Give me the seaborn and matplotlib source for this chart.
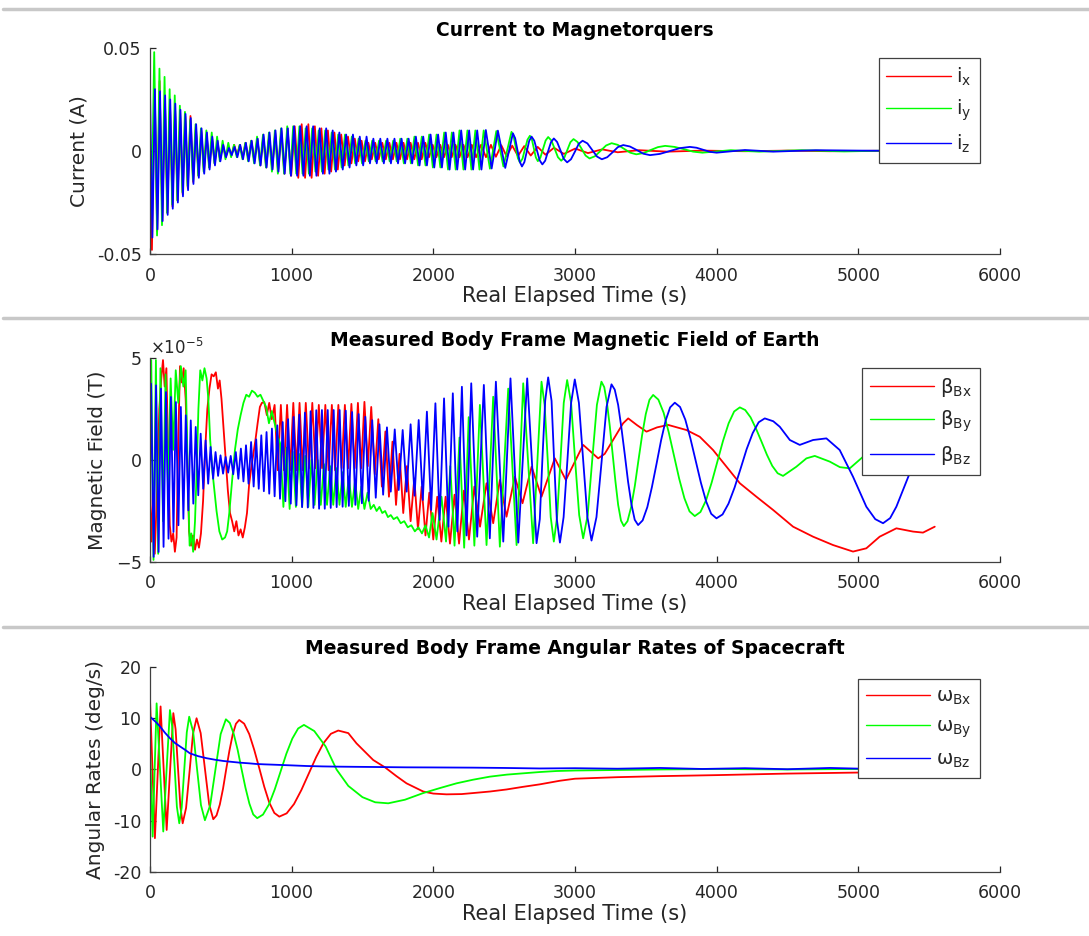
import matplotlib.pyplot as plt
import seaborn as sns
from matplotlib.lines import Line2D
from matplotlib.ticker import ScalarFormatter

sns.set_style("ticks")
plt.rcParams["font.family"] = ["DejaVu Sans"]
plt.rcParams["axes.unicode_minus"] = False
plt.rcParams["mathtext.default"] = "regular"

# ---- panel 1: current to magnetorquers (A), extrema ----
t_ix = [0, 14, 33, 51, 68, 87, 105, 123, 141, 159,
        177, 195, 213, 231, 249, 267, 286, 305, 324, 343,
        362, 381, 400, 419, 438, 457, 476, 495, 515, 535,
        555, 575, 595, 615, 635, 655, 675, 695, 716, 737,
        758, 779, 800, 821, 842, 863, 884, 905, 927, 949,
        971, 997, 1022, 1047, 1071, 1095, 1118, 1141, 1164, 1187,
        1210, 1233, 1256, 1279, 1302, 1326, 1350, 1374, 1398, 1422,
        1446, 1470, 1494, 1518, 1542, 1566, 1590, 1615, 1640, 1665,
        1690, 1715, 1740, 1765, 1790, 1815, 1840, 1866, 1892, 1918,
        1944, 1970, 1996, 2022, 2049, 2076, 2103, 2130, 2157, 2185,
        2213, 2242, 2272, 2302, 2337, 2372, 2407, 2442, 2480, 2518,
        2557, 2598, 2642, 2688, 2737, 2792, 2852, 2922, 3002, 3092,
        3192, 3302, 3452, 3652, 3902, 4200, 4500, 4800, 5100, 5550]
i_x = [0.0, -0.048, 0.030, -0.039, 0.034, -0.034, 0.026, -0.030, 0.024, -0.027,
       0.021, -0.024, 0.019, -0.021, 0.017, -0.018, 0.017, -0.015, 0.012, -0.012,
       0.010, -0.010, 0.008, -0.008, 0.006, -0.006, 0.004, -0.004, 0.003, -0.003,
       0.002, -0.002, 0.003, -0.002, 0.003, -0.003, 0.004, -0.004, 0.005, -0.005,
       0.006, -0.007, 0.007, -0.008, 0.008, -0.009, 0.009, -0.010, 0.010, -0.011,
       0.011, -0.012, 0.012, -0.013, 0.013, -0.013, 0.013, -0.013, 0.012, -0.012,
       0.011, -0.011, 0.010, -0.010, 0.009, -0.009, 0.008, -0.007, 0.007, -0.006,
       0.006, -0.005, 0.005, -0.005, 0.004, -0.004, 0.004, -0.004, 0.004, -0.004,
       0.004, -0.004, 0.004, -0.004, 0.004, -0.004, 0.004, -0.004, 0.004, -0.004,
       0.004, -0.003, 0.003, -0.003, 0.003, -0.003, 0.003, -0.003, 0.003, -0.003,
       0.003, -0.003, 0.003, -0.003, 0.003, -0.003, 0.003, -0.0028, 0.0028, -0.0026,
       0.0026, -0.0024, 0.0024, -0.0022, 0.0020, -0.0018, 0.0016, -0.0014, 0.0012, -0.0010,
       0.0008, -0.0006, 0.0004, -0.0003, 0.0002, -0.0001, 0.0002, -0.0001, 0.0001, 0.0]

t_iy = [0, 12, 30, 50, 67, 85, 103, 121, 139, 157,
        175, 193, 211, 229, 247, 265, 284, 303, 322, 341,
        360, 379, 398, 417, 436, 455, 474, 493, 513, 533,
        553, 573, 593, 613, 633, 653, 673, 693, 714, 735,
        756, 777, 798, 819, 840, 861, 882, 903, 925, 947,
        969, 991, 1011, 1033, 1055, 1077, 1099, 1122, 1145, 1168,
        1191, 1214, 1237, 1260, 1283, 1306, 1329, 1353, 1377, 1401,
        1425, 1449, 1473, 1497, 1521, 1545, 1569, 1593, 1617, 1642,
        1667, 1692, 1717, 1742, 1767, 1792, 1817, 1842, 1867, 1893,
        1919, 1945, 1971, 1997, 2023, 2050, 2077, 2104, 2131, 2158,
        2185, 2213, 2241, 2269, 2297, 2326, 2356, 2400, 2445, 2495,
        2552, 2567, 2582, 2597, 2612, 2630, 2647, 2665, 2682, 2696,
        2710, 2724, 2738, 2756, 2775, 2793, 2811, 2834, 2857, 2880,
        2903, 2925, 2947, 2968, 2990, 3018, 3047, 3075, 3103, 3142,
        3181, 3220, 3259, 3302, 3346, 3390, 3433, 3484, 3535, 3586,
        3637, 3703, 3769, 3834, 3900, 4100, 4300, 4600, 4900, 5200,
        5550]
i_y = [0.012, -0.030, 0.048, -0.041, 0.040, -0.036, 0.036, -0.030, 0.030, -0.026,
       0.027, -0.024, 0.022, -0.020, 0.019, -0.017, 0.015, -0.014, 0.013, -0.012,
       0.011, -0.010, 0.010, -0.008, 0.009, -0.006, 0.007, -0.005, 0.005, -0.004,
       0.004, -0.003, 0.003, -0.003, 0.003, -0.004, 0.004, -0.005, 0.005, -0.006,
       0.007, -0.007, 0.008, -0.008, 0.009, -0.010, 0.010, -0.011, 0.011, -0.011,
       0.012, -0.011, 0.012, -0.011, 0.012, -0.011, 0.011, -0.011, 0.011, -0.010,
       0.010, -0.010, 0.010, -0.009, 0.009, -0.009, 0.008, -0.008, 0.008, -0.007,
       0.007, -0.006, 0.006, -0.006, 0.005, -0.005, 0.005, -0.005, 0.005, -0.005,
       0.005, -0.005, 0.005, -0.005, 0.006, -0.006, 0.006, -0.006, 0.007, -0.007,
       0.007, -0.007, 0.008, -0.008, 0.008, -0.008, 0.009, -0.009, 0.009, -0.009,
       0.010, -0.009, 0.010, -0.009, 0.010, -0.009, 0.0100, -0.0086, 0.0097, -0.0075,
       0.0093, 0.0071, 0.0019, -0.0034, -0.0056, -0.0037, 0.0009, 0.0055, 0.0074, 0.0056,
       0.0013, -0.0031, -0.0049, -0.0032, 0.0010, 0.0051, 0.0068, 0.0051, 0.0011, -0.0030,
       -0.0047, -0.0032, 0.0006, 0.0043, 0.0058, 0.0044, 0.0011, -0.0022, -0.0036, -0.0025,
       0.0001, 0.0027, 0.0038, 0.0030, 0.0011, -0.0008, -0.0016, -0.0010, 0.0005, 0.0019,
       0.0025, 0.0020, 0.0009, -0.0003, -0.0008, 0.0004, -0.0003, 0.0004, -0.0002, 0.0002,
       0.0]

t_iz = [0, 17, 35, 53, 71, 89, 107, 125, 143, 161,
        179, 197, 215, 233, 251, 269, 288, 307, 326, 345,
        364, 383, 402, 421, 440, 459, 478, 497, 517, 537,
        557, 577, 597, 617, 637, 657, 677, 697, 718, 739,
        760, 781, 802, 823, 844, 865, 886, 907, 929, 951,
        973, 995, 1017, 1039, 1061, 1083, 1106, 1129, 1152, 1175,
        1198, 1221, 1244, 1267, 1290, 1313, 1337, 1361, 1385, 1409,
        1433, 1457, 1481, 1505, 1529, 1553, 1577, 1601, 1626, 1651,
        1676, 1701, 1726, 1751, 1776, 1801, 1826, 1851, 1877, 1903,
        1929, 1955, 1981, 2007, 2034, 2061, 2088, 2115, 2142, 2169,
        2197, 2225, 2253, 2281, 2310, 2340, 2371, 2412, 2456, 2508,
        2562, 2578, 2594, 2610, 2626, 2643, 2660, 2677, 2694, 2713,
        2732, 2751, 2770, 2790, 2810, 2831, 2851, 2874, 2898, 2921,
        2945, 2972, 3000, 3027, 3054, 3088, 3122, 3156, 3190, 3228,
        3266, 3303, 3341, 3388, 3436, 3483, 3530, 3600, 3670, 3741,
        3811, 3858, 3906, 3953, 4000, 4200, 4400, 4700, 5000, 5300,
        5550]
i_z = [0.031, -0.042, 0.030, -0.038, 0.029, -0.034, 0.027, -0.031, 0.025, -0.028,
       0.023, -0.025, 0.020, -0.022, 0.018, -0.019, 0.016, -0.016, 0.013, -0.013,
       0.011, -0.011, 0.009, -0.009, 0.007, -0.007, 0.005, -0.005, 0.003, -0.003,
       0.0015, -0.002, 0.002, -0.003, 0.003, -0.004, 0.004, -0.005, 0.005, -0.006,
       0.006, -0.007, 0.008, -0.008, 0.009, -0.009, 0.010, -0.010, 0.011, -0.011,
       0.011, -0.012, 0.012, -0.012, 0.012, -0.012, 0.012, -0.012, 0.012, -0.012,
       0.011, -0.011, 0.011, -0.011, 0.010, -0.010, 0.009, -0.009, 0.008, -0.008,
       0.008, -0.007, 0.007, -0.007, 0.007, -0.006, 0.006, -0.006, 0.006, -0.006,
       0.006, -0.006, 0.006, -0.006, 0.006, -0.006, 0.006, -0.006, 0.007, -0.007,
       0.007, -0.007, 0.008, -0.008, 0.008, -0.008, 0.009, -0.009, 0.009, -0.009,
       0.010, -0.009, 0.010, -0.009, 0.010, -0.009, 0.0102, -0.0085, 0.0099, -0.0082,
       0.0086, 0.0062, 0.0006, -0.0051, -0.0075, -0.0054, -0.0003, 0.0049, 0.0070, 0.0050,
       0.0003, -0.0045, -0.0065, -0.0047, -0.0002, 0.0043, 0.0061, 0.0044, 0.0003, -0.0038,
       -0.0055, -0.0040, -0.0003, 0.0035, 0.0050, 0.0037, 0.0005, -0.0027, -0.0040, -0.0030,
       -0.0006, 0.0019, 0.0029, 0.0022, 0.0005, -0.0013, -0.0020, -0.0014, 0.0, 0.0014,
       0.0020, 0.0016, 0.0006, -0.0004, -0.0008, 0.0005, -0.0003, 0.0004, 0.0002, 0.0001,
       0.0]

# ---- panel 2: measured body-frame magnetic field (units of 1e-5 T) ----
field_unit = 1e-5

t_bx = [0, 10, 22, 34, 50, 66, 80, 92, 104, 116,
        128, 140, 152, 164, 176, 188, 200, 212, 225, 238,
        252, 264, 276, 290, 304, 318, 332, 346, 360, 375,
        390, 405, 420, 435, 450, 465, 480, 492, 505, 520,
        535, 550, 565, 580, 595, 610, 625, 640, 655, 670,
        685, 700, 715, 730, 745, 760, 776, 790, 807, 825,
        842, 860, 880, 902, 924, 946, 968, 990, 1012, 1034,
        1056, 1078, 1100, 1123, 1146, 1169, 1192, 1215, 1238, 1261,
        1284, 1307, 1330, 1353, 1376, 1399, 1422, 1445, 1468, 1491,
        1514, 1538, 1562, 1587, 1612, 1637, 1662, 1687, 1712, 1737,
        1762, 1788, 1814, 1840, 1866, 1892, 1918, 1945, 1972, 2000,
        2028, 2057, 2087, 2118, 2150, 2182, 2216, 2252, 2290, 2330,
        2376, 2423, 2470, 2517, 2576, 2630, 2694, 2764, 2858, 2936,
        3058, 3164, 3210, 3340, 3376, 3440, 3505, 3580, 3658, 3787,
        3881, 3975, 4070, 4164, 4281, 4399, 4540, 4681, 4822, 4963,
        5057, 5151, 5269, 5387, 5457, 5540]
b_x = [-1.0, -4.0, -2.0, -4.6, -1.5, 2.5, 4.0, 4.9, 3.6, 4.5,
       0.5, -3.2, -4.0, -3.6, -4.5, -3.8, 1.0, 4.6, 3.8, 4.5,
       3.0, 0.0, -3.5, -4.2, -3.7, -4.4, -3.9, -4.3, -3.6, -2.0,
       0.5, 2.5, 3.5, 4.2, 4.1, 4.3, 3.5, 3.9, 3.0, 1.5,
       0.0, -1.5, -2.6, -3.0, -3.5, -3.0, -3.7, -3.4, -3.8, -3.3,
       -2.6, -1.2, -0.4, 0.3, 1.0, 1.8, 2.6, 2.8, 2.84, 2.2,
       2.8, 2.0, 2.7, -0.5, 2.7, -0.5, 2.7, -0.5, 2.8, -0.5,
       2.8, -0.5, 2.8, -0.4, 2.8, -0.4, 2.7, -0.4, 2.7, -0.5,
       2.7, -0.5, 2.7, -0.4, 2.7, -0.4, 2.75, -0.4, 2.8, -0.4,
       2.85, -0.3, 2.6, -0.7, 2.0, -1.3, 1.4, -1.8, 0.9, -2.2,
       0.3, -2.6, -0.3, -3.0, -0.9, -3.4, -1.3, -3.7, -1.6, -3.9,
       -1.8, -4.0, -1.8, -4.1, -1.7, -4.1, -1.5, -3.9, -1.3, -3.27,
       -1.14, -3.1, -0.98, -2.78, -0.82, -2.12, -0.33, -1.8, 0.08, -0.98,
       0.74, 0.08, 0.3, 1.8, 2.04, 1.7, 1.39, 1.6, 1.72, 1.47,
       1.14, 0.49, -0.33, -1.14, -1.8, -2.45, -3.27, -3.76, -4.17, -4.49,
       -4.33, -3.76, -3.35, -3.51, -3.56, -3.27]

t_by = [0, 9, 25, 42, 58, 74, 92, 110, 128, 146,
        164, 182, 200, 218, 236, 252, 268, 280, 292, 305,
        318, 330, 342, 355, 370, 385, 400, 412, 425, 440,
        455, 470, 490, 510, 530, 545, 560, 580, 600, 620,
        640, 660, 680, 700, 720, 740, 760, 780, 800, 820,
        840, 860, 880, 900, 920, 942, 964, 986, 1008, 1030,
        1052, 1074, 1096, 1118, 1140, 1162, 1184, 1206, 1228, 1250,
        1272, 1294, 1316, 1338, 1360, 1382, 1404, 1426, 1448, 1470,
        1492, 1514, 1536, 1558, 1580, 1600, 1620, 1640, 1660, 1680,
        1700, 1720, 1745, 1770, 1795, 1820, 1845, 1870, 1895, 1920,
        1945, 1970, 1995, 2023, 2058, 2090, 2120, 2150, 2185, 2218,
        2250, 2290, 2329, 2376, 2423, 2470, 2529, 2588, 2635, 2705,
        2764, 2786, 2808, 2829, 2851, 2874, 2898, 2921, 2945, 2973,
        3001, 3030, 3058, 3090, 3122, 3155,
        3187, 3207, 3226, 3246, 3266, 3286, 3305, 3325,
        3345, 3371, 3397, 3423, 3448, 3474, 3500, 3526,
        3552, 3589, 3626, 3662, 3699, 3736, 3773, 3809,
        3846, 3886, 3926, 3965, 4005, 4045, 4085, 4124,
        4164, 4202, 4240, 4278, 4317, 4355, 4393, 4431,
        4469, 4563, 4634, 4693, 4799, 4870, 4940, 5034, 5150, 5300, 5550]
b_y = [0.5, 4.9, -4.9, 4.9, -4.6, 4.5, -3.0, 4.2, -1.5, 4.0,
       0.5, 4.4, 2.8, 4.6, 3.6, 4.4, -1.0, -4.2, -3.6, -4.5,
       -3.0, -0.5, 2.5, 4.4, 3.9, 4.5, 4.0, 3.0, 1.0, -0.5,
       -1.5, -2.5, -3.5, -3.9, -3.8, -3.5, -2.6, -1.0, 0.5, 1.5,
       2.2, 2.8, 3.2, 3.1, 3.4, 3.3, 3.1, 3.2, 2.9, 2.6,
       1.8, 2.4, 1.8, 1.2, 0.8, -2.3, 0.6, -2.4, 0.4, -2.3,
       0.3, -2.3, 0.2, -2.3, 0.0, -2.2, 0.0, -2.2, -0.2, -2.2,
       -0.3, -2.2, -0.4, -2.2, -0.6, -2.3, -0.8, -2.3, -1.0, -2.4,
       -1.3, -2.4, -1.6, -2.4, -2.2, -2.5, -2.3, -2.6, -2.5, -2.8,
       -2.7, -2.9, -2.8, -3.1, -3.0, -3.3, -3.2, -3.5, -3.3, -3.6,
       -3.2, -3.8, -2.6, -3.9, -1.8, -4.0, -0.3, -4.2, 1.1, -4.3,
       2.1, -4.2, 2.7, -4.17, 3.1, -4.25, 3.5, -4.17, 3.76, -4.08,
       3.84, 2.7, 0.0, -2.8, -4.0, -2.8, 0.0, 2.8, 3.92, 2.8,
       0.0, -2.7, -3.84, -2.7, 0.0, 2.7,
       3.84, 3.57, 2.80, 1.66, 0.30, -1.06, -2.20, -2.97,
       -3.24, -3.0, -2.30, -1.26, -0.03, 1.21, 2.25, 2.95,
       3.19, 2.96, 2.32, 1.36, 0.22, -0.92, -1.88, -2.52,
       -2.75, -2.55, -1.97, -1.11, -0.09, 0.93, 1.80, 2.38,
       2.58, 2.45, 2.09, 1.54, 0.90, 0.26, -0.29, -0.65,
       -0.78, -0.33, 0.08, 0.2, -0.08, -0.35, -0.41, 0.16, 0.8, 1.2, 1.5]

t_bz = [0, 8, 26, 43, 61, 78, 96, 113, 131, 148,
        166, 183, 201, 218, 236, 253, 271, 288, 306, 323,
        341, 358, 376, 393, 411, 428, 446, 463, 481, 498,
        516, 534, 552, 570, 588, 606, 624, 642, 660, 678,
        696, 714, 732, 750, 768, 786, 804, 823, 842, 861,
        880, 899, 918, 937, 956, 975, 994, 1014, 1034, 1054,
        1074, 1094, 1114, 1134, 1154, 1174, 1194, 1214, 1234, 1255,
        1276, 1297, 1318, 1339, 1360, 1382, 1404, 1427, 1450, 1473,
        1496, 1520, 1544, 1569, 1594, 1620, 1646, 1673, 1700, 1728,
        1756, 1784, 1812, 1840, 1868, 1897, 1926, 1955, 1985, 2015,
        2045, 2076, 2107, 2138, 2170, 2202, 2235, 2268, 2310, 2357,
        2399, 2442, 2494, 2545, 2600, 2663, 2729, 2752, 2770, 2790,
        2811, 2835, 2853, 2872, 2894, 2920, 2947, 2973, 2999, 3028,
        3058, 3088, 3117, 3152, 3188, 3223,
        3258, 3281, 3305, 3328, 3352, 3375, 3399, 3422,
        3446, 3478, 3511, 3543, 3576, 3608, 3640, 3672,
        3705, 3742, 3779, 3815, 3852, 3889, 3926, 3962,
        3999, 4042, 4084, 4127, 4170, 4212, 4255, 4297,
        4340, 4400, 4446, 4517, 4587, 4681, 4775, 4869,
        4963, 5057, 5120, 5175, 5225, 5269, 5363, 5450, 5550]
b_z = [-1.0, 3.74, -4.75, 3.66, -4.51, 3.50, -4.26, 3.33, -3.86, 3.09,
       -3.53, 2.84, -3.20, 2.60, -2.88, 2.19, -2.47, 1.94, -2.14, 1.62,
       -1.73, 1.29, -1.41, 0.96, -1.16, 0.64, -0.92, 0.39, -0.78, 0.23,
       -0.67, 0.15, -0.62, 0.20, -0.70, 0.39, -0.92, 0.56, -1.05, 0.72,
       -1.16, 0.88, -1.30, 1.01, -1.41, 1.21, -1.53, 1.37, -1.65, 1.54,
       -1.78, 1.70, -1.90, 1.86, -2.02, 2.00, -2.14, 2.11, -2.22, 2.22,
       -2.31, 2.32, -2.33, 2.39, -2.35, 2.44, -2.39, 2.45, -2.39, 2.45,
       -2.35, 2.45, -2.31, 2.45, -2.29, 2.42, -2.25, 2.35, -2.20, 2.25,
       -2.12, 2.12, -2.00, 1.95, -1.85, 1.75, -1.70, 1.60, -1.55, 1.50,
       -1.47, 1.47, -1.55, 1.75, -1.75, 1.96, -1.96, 2.37, -2.45, 2.78,
       -2.94, 3.02, -3.27, 3.27, -3.50, 3.59, -3.70, 3.76, -3.76, 3.68,
       -3.84, 3.84, -4.00, 4.00, -4.05, 4.00, -4.08, -2.9, 0.0, 2.9,
       4.05, 2.9, 0.0, -2.9, -4.05, -2.8, 0.0, 2.8, 3.95, 2.8,
       0.0, -2.8, -3.95, -2.8, -0.1, 2.6,
       3.71, 3.45, 2.70, 1.58, 0.26, -1.06, -2.18, -2.93,
       -3.19, -2.96, -2.31, -1.34, -0.19, 0.96, 1.93, 2.58,
       2.81, 2.60, 1.98, 1.06, -0.03, -1.11, -2.03, -2.64,
       -2.86, -2.67, -2.14, -1.35, -0.41, 0.53, 1.32, 1.85,
       2.04, 1.9, 1.63, 0.98, 0.74, 0.98, 1.06, 0.49,
       -0.82, -2.29, -2.9, -3.10, -2.85, -2.29, -0.65, 0.8, 2.0]

# ---- panel 3: measured body-frame angular rates (deg/s) ----
t_wx = [0, 35, 75, 118, 165, 181, 198, 215, 231, 255, 280, 304, 329, 358, 388,
        418, 447, 470, 493, 516, 538, 561, 584, 607, 630, 665, 701, 736, 772, 807,
        842, 878, 913, 965, 1017, 1069, 1121, 1173, 1225, 1277, 1329, 1400, 1458,
        1576, 1660, 1740, 1811, 1929, 2000, 2093, 2200, 2281, 2400, 2517, 2630,
        2752, 2893, 3000, 3300, 3600, 4000, 4500, 5000, 5550]
w_x = [13.9, -13.4, 12.3, -11.8, 11.0, 7.85, 0.25, -7.35, -10.5, -7.5, -0.25, 7.0, 10.0, 7.1, 0.15,
       -6.8, -9.7, -8.96, -6.86, -3.72, 0.0, 3.68, 6.82, 8.92, 9.66, 8.94, 6.9, 3.84, 0.23, -3.38,
       -6.44, -8.48, -9.2, -8.56, -6.74, -4.0, -0.8, 2.4, 5.14, 6.96, 7.6, 7.1, 5.1,
       1.85, 0.4, -1.3, -2.7, -4.3, -4.7, -4.85, -4.8, -4.6, -4.3, -3.9, -3.4,
       -2.9, -2.2, -1.8, -1.5, -1.3, -1.1, -0.8, -0.6, -0.4]

t_wy = [0, 19, 47, 94, 117, 141, 157, 174, 190, 207, 224, 242, 260, 277, 305,
        332, 360, 388, 425, 462, 499, 536, 564, 591, 619, 646, 674, 702, 729, 757,
        798, 840, 881, 922, 963, 1005, 1046, 1087, 1160, 1240, 1317, 1400, 1500,
        1590, 1682, 1800, 1929, 2050, 2164, 2280, 2399, 2520, 2634, 2750, 2870,
        3000, 3300, 3600, 4000, 4500, 5000, 5550]
w_y = [5.0, -13.1, 12.9, -12.1, -0.25, 11.6, 8.36, 0.55, -7.26, -10.5, -7.45, -0.1, 7.25, 10.3, 7.34,
       0.2, -6.94, -9.9, -7.0, -0.05, 6.9, 9.8, 9.07, 6.97, 3.84, 0.15, -3.54, -6.67, -8.77, -9.5,
       -8.8, -6.83, -3.88, -0.4, 3.08, 6.03, 8.0, 8.7, 7.5, 4.5, 0.0, -3.2, -5.4,
       -6.4, -6.6, -5.9, -4.6, -3.6, -2.7, -2.0, -1.4, -1.0, -0.75, -0.5, -0.3,
       -0.2, -0.1, 0.0, 0.1, 0.0, 0.1, 0.0]

t_wz = [0, 40, 71, 105, 141, 175, 212, 250, 282, 340, 400, 460, 518, 580, 635,
        700, 753, 810, 870, 1000, 1105, 1220, 1341, 1450, 1576, 1700, 1811, 2000,
        2281, 2500, 2752, 3000, 3300, 3600, 3900, 4200, 4500, 4800, 5100, 5400, 5550]
w_z = [10.3, 9.3, 8.4, 7.2, 6.1, 5.2, 4.5, 3.8, 3.15, 2.6, 2.2, 1.9, 1.66, 1.48, 1.33,
       1.2, 1.07, 1.0, 0.94, 0.8, 0.68, 0.6, 0.55, 0.52, 0.49, 0.45, 0.42, 0.4,
       0.36, 0.3, 0.2, 0.25, 0.15, 0.3, 0.1, 0.25, 0.05, 0.3, 0.1, 0.2, 0.15]

RED, GREEN, BLUE = (1, 0, 0), (0, 1, 0), (0, 0, 1)
AXIS_COLOR = "#404040"

fig = plt.figure(figsize=(10.89, 9.36), dpi=100)
ax1 = fig.add_axes([0.1377, 0.7286, 0.7805, 0.2201])
ax2 = fig.add_axes([0.1377, 0.3996, 0.7805, 0.2179])
ax3 = fig.add_axes([0.1377, 0.0684, 0.7805, 0.2190])


def draw(ax, series, scale=1.0):
    for t, v, color, label in series:
        sns.lineplot(x=t, y=[y * scale for y in v], ax=ax, color=color, lw=1.3,
                     label=label, estimator=None, sort=False)


def style(ax, title, ylabel, legend_top):
    ax.set_xlim(0, 6000)
    ax.set_xticks(range(0, 6001, 1000))
    ax.set_title(title, fontsize=13.5, fontweight="bold", pad=9, color="black")
    ax.set_xlabel("Real Elapsed Time (s)", fontsize=15, labelpad=1, color="#262626")
    ax.set_ylabel(ylabel, fontsize=14.5, labelpad=6, color="#262626")
    ax.tick_params(direction="in", length=4, width=0.9, labelsize=12.5,
                   colors="#262626")
    ax.tick_params(axis="x", pad=9)
    ax.tick_params(axis="y", pad=6)
    ax.spines["top"].set_visible(False)
    ax.spines["right"].set_visible(False)
    for s in ["left", "bottom"]:
        ax.spines[s].set_color(AXIS_COLOR)
        ax.spines[s].set_linewidth(0.9)
    leg = ax.legend(loc="upper right", bbox_to_anchor=(0.976, legend_top),
                    fontsize=14, handlelength=3.3, handletextpad=0.3,
                    borderpad=0.4, labelspacing=0.5, borderaxespad=0,
                    fancybox=False, framealpha=1, edgecolor=AXIS_COLOR)
    leg.get_frame().set_linewidth(0.9)
    for line in leg.get_lines():
        line.set_linewidth(1.0)


draw(ax1, [(t_ix, i_x, RED, r"$i_x$"),
           (t_iy, i_y, GREEN, r"$i_y$"),
           (t_iz, i_z, BLUE, r"$i_z$")])
ax1.set_ylim(-0.05, 0.05)
ax1.set_yticks([-0.05, 0, 0.05])
ax1.set_yticklabels(["-0.05", "0", "0.05"])
style(ax1, "Current to Magnetorquers", "Current (A)", 0.951)

draw(ax2, [(t_bx, b_x, RED, r"$\beta_{Bx}$"),
           (t_by, b_y, GREEN, r"$\beta_{By}$"),
           (t_bz, b_z, BLUE, r"$\beta_{Bz}$")], scale=field_unit)
ax2.set_ylim(-5e-5, 5e-5)
ax2.set_yticks([-5e-5, 0, 5e-5])
fmt = ScalarFormatter(useMathText=True)
fmt.set_powerlimits((0, 0))
ax2.yaxis.set_major_formatter(fmt)
ax2.yaxis.get_offset_text().set_fontsize(12)
ax2.yaxis.get_offset_text().set_color("#262626")
style(ax2, "Measured Body Frame Magnetic Field of Earth", "Magnetic Field (T)", 0.951)

draw(ax3, [(t_wx, w_x, RED, r"$\omega_{Bx}$"),
           (t_wy, w_y, GREEN, r"$\omega_{By}$"),
           (t_wz, w_z, BLUE, r"$\omega_{Bz}$")])
ax3.set_ylim(-20, 20)
ax3.set_yticks([-20, -10, 0, 10, 20])
style(ax3, "Measured Body Frame Angular Rates of Spacecraft", "Angular Rates (deg/s)", 0.941)

# grey separators between the stacked screenshots
for ypix in [9, 318, 627]:
    y = 1 - ypix / 936
    fig.add_artist(Line2D([0.003, 1.0], [y, y], transform=fig.transFigure,
                          color="#c8c8c8", lw=2.5))

fig.savefig("out.png", dpi=100)
